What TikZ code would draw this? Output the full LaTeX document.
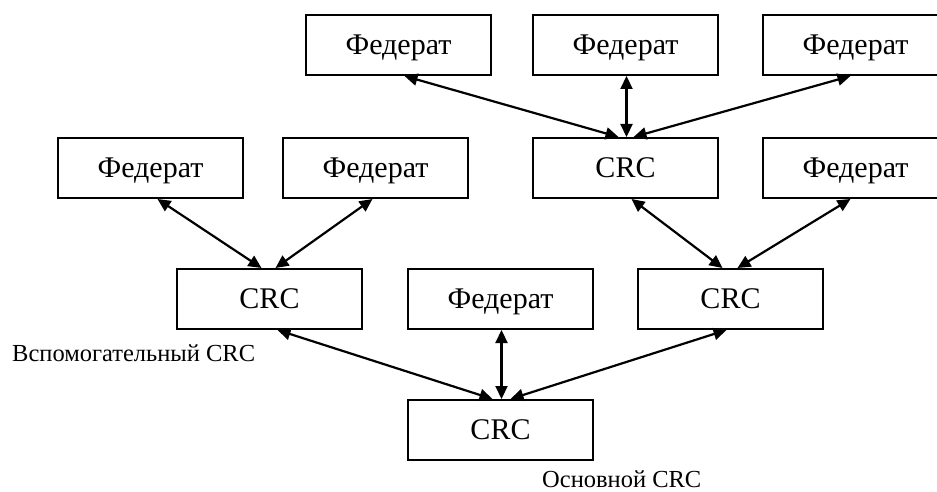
\documentclass[tikz,border=0pt]{standalone}
\usepackage{fontspec}
\setmainfont{Liberation Serif}
\usetikzlibrary{arrows.meta}
\begin{document}
\begin{tikzpicture}[x=1pt,y=-1pt,
  unit/.style={draw,line width=2pt,minimum width=185pt,minimum height=60pt,
    inner sep=0pt,text height=21pt,text depth=2pt,
    font=\fontsize{30}{32}\selectfont},
  link/.style={line width=2.2pt,
    {Triangle[length=13pt,width=12pt]}-{Triangle[length=13pt,width=12pt]}},
  caption/.style={font=\fontsize{24.5}{27}\selectfont,inner sep=0pt}]
\useasboundingbox (0,0) rectangle (937,492);

% top level: federates around the upper CRC
\node[unit] (f1) at (398.5,45) {Федерат};
\node[unit] (f2) at (625.5,45) {Федерат};
\node[unit] (f3) at (855.5,45) {Федерат};

% second level
\node[unit] (f4) at (150.5,168) {Федерат};
\node[unit] (f5) at (375.5,168) {Федерат};
\node[unit] (c1) at (625.5,168) {CRC};
\node[unit] (f6) at (855.5,168) {Федерат};

% third level
\node[unit] (c2) at (269.5,299) {CRC};
\node[unit] (f7) at (500.5,299) {Федерат};
\node[unit] (c3) at (730.5,299) {CRC};

% main CRC
\node[unit] (c4) at (500.5,430) {CRC};

% captions
\node[caption,anchor=base west] (l1) at (12,361) {Вспомогательный CRC};
\node[caption,anchor=base west] (l2) at (542,487) {Основной CRC};

% links
\draw[link] ([xshift=6pt]f1.south) -- ([xshift=-7pt]c1.north);
\draw[link] ([xshift=1pt]f2.south) -- ([xshift=1pt]c1.north);
\draw[link] ([xshift=-5pt]f3.south) -- ([xshift=8pt]c1.north);

\draw[link] ([xshift=7pt]f4.south) -- ([xshift=-8pt]c2.north);
\draw[link] ([xshift=-3pt]f5.south) -- ([xshift=6pt]c2.north);
\draw[link] ([xshift=6pt]c1.south) -- ([xshift=-8pt]c3.north);
\draw[link] ([xshift=-5pt]f6.south) -- ([xshift=7pt]c3.north);

\draw[link] ([xshift=8pt]c2.south) -- ([xshift=-8pt]c4.north);
\draw[link] ([xshift=1pt]f7.south) -- ([xshift=1pt]c4.north);
\draw[link] ([xshift=-4pt]c3.south) -- ([xshift=10pt]c4.north);
\end{tikzpicture}
\end{document}
